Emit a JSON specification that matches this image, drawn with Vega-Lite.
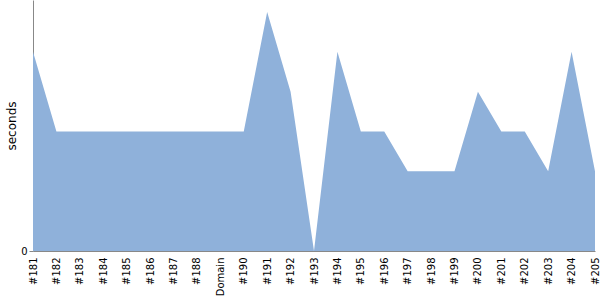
{
  "$schema": "https://vega.github.io/schema/vega-lite/v6.json",
  "width": 562,
  "height": 251,
  "autosize": {"type": "none"},
  "padding": {"left": 33, "top": 0, "right": 5, "bottom": 49},
  "config": {"view": {"stroke": null}, "font": "DejaVu Sans"},
  "data": {"values": [
    {"build": "#181", "seconds": 5},
    {"build": "#182", "seconds": 3},
    {"build": "#183", "seconds": 3},
    {"build": "#184", "seconds": 3},
    {"build": "#185", "seconds": 3},
    {"build": "#186", "seconds": 3},
    {"build": "#187", "seconds": 3},
    {"build": "#188", "seconds": 3},
    {"build": "Domain", "seconds": 3},
    {"build": "#190", "seconds": 3},
    {"build": "#191", "seconds": 6},
    {"build": "#192", "seconds": 4},
    {"build": "#193", "seconds": 0},
    {"build": "#194", "seconds": 5},
    {"build": "#195", "seconds": 3},
    {"build": "#196", "seconds": 3},
    {"build": "#197", "seconds": 2},
    {"build": "#198", "seconds": 2},
    {"build": "#199", "seconds": 2},
    {"build": "#200", "seconds": 4},
    {"build": "#201", "seconds": 3},
    {"build": "#202", "seconds": 3},
    {"build": "#203", "seconds": 2},
    {"build": "#204", "seconds": 5},
    {"build": "#205", "seconds": 2}
  ]},
  "mark": {"type": "area", "color": "#8fb1da", "opacity": 1},
  "encoding": {
    "x": {
      "field": "build", "type": "ordinal", "sort": null,
      "scale": {"type": "point", "padding": 0},
      "axis": {"title": null, "labelAngle": -90, "labelFontSize": 10, "labelColor": "#000", "domainColor": "#888", "ticks": false, "labelPadding": 6, "grid": false}
    },
    "y": {
      "field": "seconds", "type": "quantitative",
      "scale": {"domain": [0, 6.3], "nice": false},
      "axis": {"title": "seconds", "titleFontSize": 12, "titleFontWeight": "normal", "titleColor": "#000", "values": [0], "labelFontSize": 10, "labelColor": "#000", "domainColor": "#888", "tickColor": "#888", "tickSize": 4, "grid": false, "titlePadding": 2}
    }
  }
}
